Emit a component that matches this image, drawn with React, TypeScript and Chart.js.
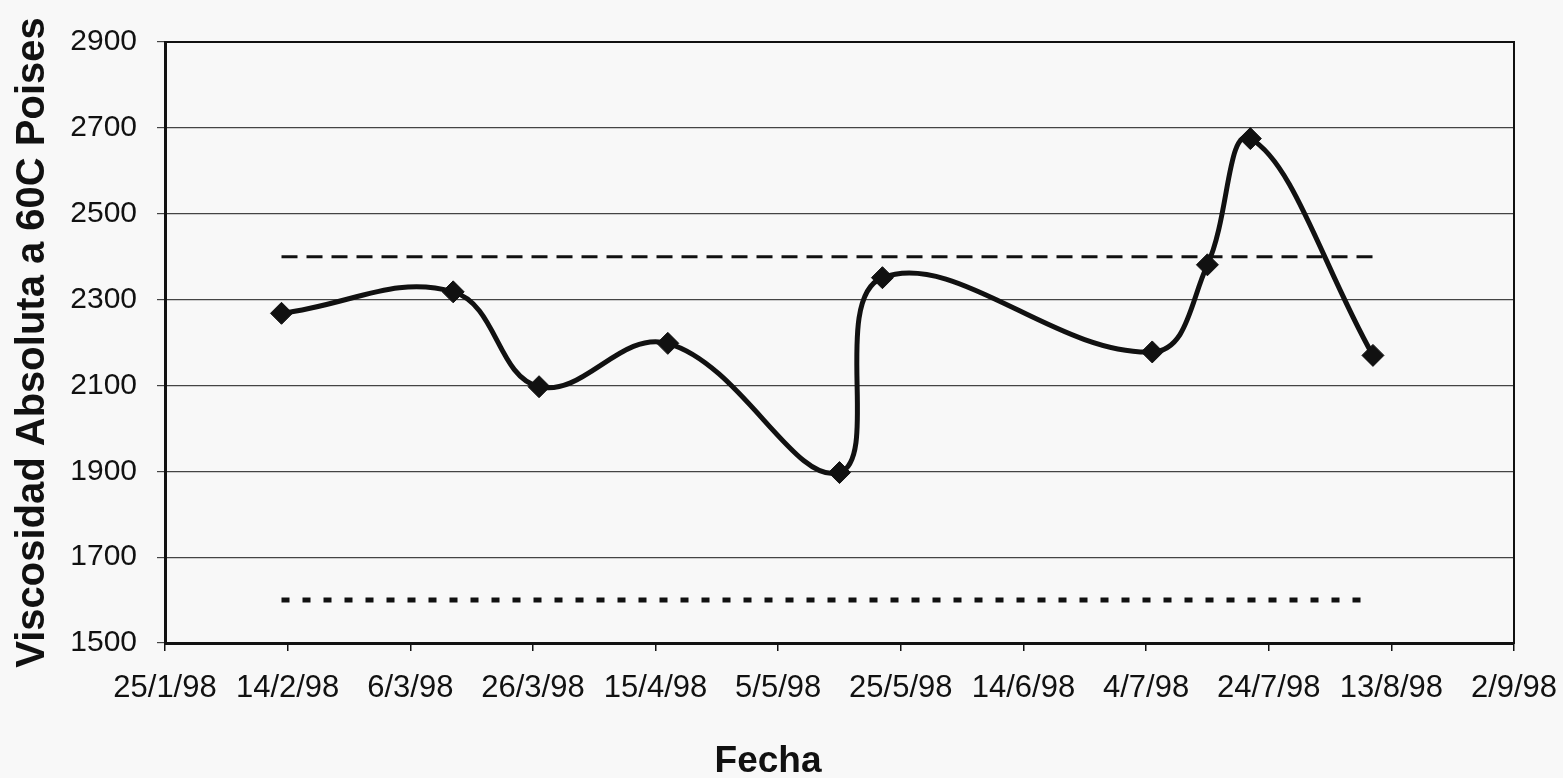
import React, { useEffect, useRef } from "react";
import { Chart, registerables } from "chart.js";

Chart.register(...registerables);

// ---- data ----
const startDate = "1998-01-25";
const sampleDates = [
  "1998-02-13",
  "1998-03-13",
  "1998-03-27",
  "1998-04-17",
  "1998-05-15",
  "1998-05-22",
  "1998-07-05",
  "1998-07-14",
  "1998-07-21",
  "1998-08-10",
];
const viscosity = [2268, 2318, 2097, 2198, 1897, 2351, 2178, 2381, 2675, 2170];

const limitDates = ["1998-02-13", "1998-08-10"];
const upperLimit = [2400, 2400];
const lowerLimit = [1600, 1600];

const xTickLabels = [
  "25/1/98",
  "14/2/98",
  "6/3/98",
  "26/3/98",
  "15/4/98",
  "5/5/98",
  "25/5/98",
  "14/6/98",
  "4/7/98",
  "24/7/98",
  "13/8/98",
  "2/9/98",
];
const yTickValues = [1500, 1700, 1900, 2100, 2300, 2500, 2700, 2900];

const xTitle = "Fecha";
const yTitle = "Viscosidad Absoluta a 60C Poises";

const DAY = 86400000;
const dayOffset = (d: string) =>
  Math.round((Date.parse(d + "T00:00:00Z") - Date.parse(startDate + "T00:00:00Z")) / DAY);

const FONT = "'Liberation Sans', Arial, sans-serif";

export default function App() {
  const ref = useRef<HTMLCanvasElement | null>(null);

  useEffect(() => {
    if (!ref.current) return;

    const framePlugin = {
      id: "frame",
      afterDatasetsDraw(chart: any) {
        const { ctx, chartArea } = chart;
        ctx.save();
        ctx.strokeStyle = "#111";
        ctx.lineWidth = 2;
        ctx.strokeRect(chartArea.left, chartArea.top, chartArea.right - chartArea.left, chartArea.bottom - chartArea.top);
        ctx.restore();
      },
      afterDraw(chart: any) {
        const { ctx } = chart;
        ctx.save();
        ctx.fillStyle = "#111";
        ctx.font = `bold 37px ${FONT}`;
        ctx.textAlign = "center";
        ctx.textBaseline = "middle";
        ctx.fillText(xTitle, 768, 762);
        ctx.restore();
      },
    };

    const chart = new Chart(ref.current, {
      type: "line",
      data: {
        datasets: [
          {
            label: "Viscosidad",
            data: sampleDates.map((d, i) => ({ x: dayOffset(d), y: viscosity[i] })),
            borderColor: "#111",
            backgroundColor: "#111",
            borderWidth: 5,
            tension: 0.4,
            pointStyle: "rectRot",
            pointRadius: 11,
            pointBorderWidth: 1,
            pointBackgroundColor: "#111",
            pointBorderColor: "#111",
            order: 0,
          },
          {
            label: "Límite superior",
            data: limitDates.map((d, i) => ({ x: dayOffset(d), y: upperLimit[i] })),
            borderColor: "#111",
            borderWidth: 3,
            borderDash: [16, 9],
            pointRadius: 0,
            order: 1,
          },
          {
            label: "Límite inferior",
            data: limitDates.map((d, i) => ({ x: dayOffset(d), y: lowerLimit[i] })),
            borderColor: "#111",
            borderWidth: 5,
            borderDash: [8, 13],
            pointRadius: 0,
            order: 2,
          },
        ],
      },
      options: {
        animation: false,
        responsive: false,
        devicePixelRatio: 1,
        layout: { padding: { top: 42, right: 49, left: 0, bottom: 55 } },
        plugins: {
          legend: { display: false },
          tooltip: { enabled: false },
          title: { display: false },
        },
        scales: {
          x: {
            type: "linear",
            min: 0,
            max: 220,
            afterBuildTicks(scale: any) {
              scale.ticks = xTickLabels.map((_, i) => ({ value: i * 20 }));
            },
            afterFit(scale: any) {
              scale.height = 80;
              scale.paddingLeft = 0;
              scale.paddingRight = 0;
            },
            ticks: {
              color: "#111",
              font: { family: FONT, size: 31 },
              padding: 19,
              maxRotation: 0,
              autoSkip: false,
              callback: (_v: any, i: number) => xTickLabels[i],
            },
            grid: {
              display: true,
              drawOnChartArea: false,
              drawTicks: true,
              tickLength: 8,
              color: "#111",
              lineWidth: 1.5,
            },
            border: { display: true, color: "#111", width: 3 },
          },
          y: {
            type: "linear",
            min: 1500,
            max: 2900,
            afterBuildTicks(scale: any) {
              scale.ticks = yTickValues.map((v) => ({ value: v }));
            },
            afterFit(scale: any) {
              scale.width = 165;
              scale.paddingTop = 0;
              scale.paddingBottom = 0;
            },
            ticks: {
              color: "#111",
              font: { family: FONT, size: 30 },
              padding: 20,
              autoSkip: false,
              callback: (v: any) => String(v),
            },
            grid: {
              display: true,
              drawOnChartArea: true,
              drawTicks: true,
              tickLength: 8,
              color: "#444",
              lineWidth: 1.2,
            },
            border: { display: true, color: "#111", width: 3 },
            title: {
              display: true,
              text: yTitle,
              color: "#111",
              font: { family: FONT, size: 40, weight: "bold" },
              padding: { top: 9, bottom: 0 },
            },
          },
        },
      },
      plugins: [framePlugin],
    } as any);

    return () => chart.destroy();
  }, []);

  return (
    <div
      style={{
        position: "fixed",
        left: 0,
        top: 0,
        width: 1563,
        height: 778,
        background: "#f8f8f8",
      }}
    >
      <canvas ref={ref} width={1563} height={778} style={{ display: "block" }} />
    </div>
  );
}
